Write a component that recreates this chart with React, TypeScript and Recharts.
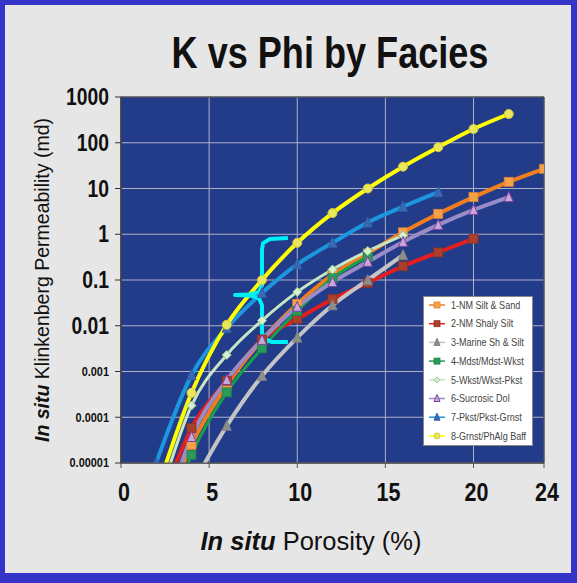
import React from "react";
import { ComposedChart, Line, XAxis, YAxis, CartesianGrid, ReferenceArea } from "recharts";

const facies = [
  "1-NM Silt & Sand",
  "2-NM Shaly Silt",
  "3-Marine Sh & Silt",
  "4-Mdst/Mdst-Wkst",
  "5-Wkst/Wkst-Pkst",
  "6-Sucrosic Dol",
  "7-Pkst/Pkst-Grnst",
  "8-Grnst/PhAlg Baff",
];

// porosity (%) and permeability (md), one pair per facies
const phi1 = [2, 4, 6, 8, 10, 12, 14, 16, 18, 20, 22, 24];
const k1 = [2.5e-7, 0.000025, 0.0005, 0.0049, 0.03, 0.13, 0.38, 1.1, 2.8, 6.5, 14, 27];
const phi2 = [2, 4, 6, 8, 10, 12, 14, 16, 18, 20];
const k2 = [7e-7, 0.000058, 0.00063, 0.005, 0.014, 0.038, 0.087, 0.2, 0.4, 0.8];
const phi3 = [4, 6, 8, 10, 12, 14, 16];
const k3 = [3e-6, 0.000065, 0.0008, 0.0055, 0.028, 0.1, 0.35];
const phi4 = [2, 4, 6, 8, 10, 12, 14];
const k4 = [1e-7, 0.000015, 0.00035, 0.0032, 0.021, 0.11, 0.32];
const phi5 = [2, 4, 6, 8, 10, 12, 14, 16];
const k5 = [1e-6, 0.00018, 0.0023, 0.013, 0.055, 0.17, 0.43, 0.95];
const phi6 = [2, 4, 6, 8, 10, 12, 14, 16, 18, 20, 22];
const k6 = [2e-7, 0.000037, 0.00065, 0.0049, 0.026, 0.09, 0.25, 0.68, 1.6, 3.4, 6.5];
const phi7 = [2, 4, 6, 8, 10, 12, 14, 16, 18];
const k7 = [0.0000102, 0.00083, 0.009, 0.052, 0.22, 0.65, 1.8, 4, 8.3];
const phi8 = [2, 4, 6, 8, 10, 12, 14, 16, 18, 20, 22];
const k8 = [2.2e-6, 0.00034, 0.0105, 0.1, 0.65, 2.9, 10, 30, 80, 200, 425];

// the cyan brace drawn over the chart
const braceX = [9.47, 8.45, 8.06, 8.0, 8.0, 7.83, 7.3, 6.47, 7.3, 7.83, 8.0, 8.0, 8.17, 8.57, 9.47];
const braceK = [0.83, 0.79, 0.64, 0.46, 0.078, 0.055, 0.048, 0.047, 0.046, 0.04, 0.028, 0.0069, 0.0051, 0.0044, 0.0044];

const xTicks = [0, 5, 10, 15, 20, 24];
const yTicks = [0.00001, 0.0001, 0.001, 0.01, 0.1, 1, 10, 100, 1000];

const pts = (xs: number[], ks: number[]) => xs.map((x, i) => ({ x, k: ks[i] }));

const seriesData = [pts(phi1, k1), pts(phi2, k2), pts(phi3, k3), pts(phi4, k4), pts(phi5, k5), pts(phi6, k6), pts(phi7, k7), pts(phi8, k8)];

type Shape = "square" | "triangle" | "diamond" | "circle";
const styles: { line: string; fill: string; edge: string; shape: Shape; width: number }[] = [
  { line: "#F07E1E", fill: "#F4A24A", edge: "#E08030", shape: "square", width: 4 },
  { line: "#E31E1E", fill: "#A8402C", edge: "#903020", shape: "square", width: 4 },
  { line: "#C4C4C4", fill: "#8E8E8E", edge: "#808080", shape: "triangle", width: 4 },
  { line: "#16A04A", fill: "#2A9A58", edge: "#208048", shape: "square", width: 3 },
  { line: "#C8E6C4", fill: "#D8F0D0", edge: "#90C890", shape: "diamond", width: 3 },
  { line: "#9A8CC6", fill: "#C8A8D8", edge: "#8040A0", shape: "triangle", width: 4 },
  { line: "#1C96DE", fill: "#3A68B4", edge: "#3060A8", shape: "triangle", width: 4 },
  { line: "#FFFF00", fill: "#E8E85A", edge: "#D8C840", shape: "circle", width: 4 },
];

const font = "'Liberation Sans', Arial, sans-serif";

function Marker({ cx, cy, shape, fill, edge, s = 4.5 }: { cx: number; cy: number; shape: Shape; fill: string; edge: string; s?: number }) {
  if (cx == null || cy == null || isNaN(cx) || isNaN(cy)) return null;
  if (shape === "square") return <rect x={cx - s} y={cy - s} width={2 * s} height={2 * s} fill={fill} stroke={edge} strokeWidth={0.8} />;
  if (shape === "triangle")
    return <polygon points={`${cx},${cy - s - 1} ${cx - s},${cy + s} ${cx + s},${cy + s}`} fill={fill} stroke={edge} strokeWidth={1} />;
  if (shape === "diamond")
    return <polygon points={`${cx},${cy - s} ${cx + s},${cy} ${cx},${cy + s} ${cx - s},${cy}`} fill={fill} stroke={edge} strokeWidth={1} />;
  return <circle cx={cx} cy={cy} r={s} fill={fill} stroke={edge} strokeWidth={1} />;
}

const YTick = (props: any) => {
  const { x, y, payload } = props;
  const v = payload.value as number;
  const big = v >= 0.01;
  return (
    <g transform={`translate(${x - 4},${y}) scale(0.84,1)`}>
      <text x={0} y={0} textAnchor="end" dominantBaseline="central" fontFamily={font} fontWeight="bold" fontSize={big ? 23 : 13} fill="#111">
        {String(v)}
      </text>
    </g>
  );
};

const XTick = (props: any) => {
  const { x, y, payload } = props;
  return (
    <g transform={`translate(${x + 3},${y + 22}) scale(0.86,1)`}>
      <text x={0} y={0} textAnchor="middle" dominantBaseline="central" fontFamily={font} fontWeight="bold" fontSize={25} fill="#111">
        {payload.value}
      </text>
    </g>
  );
};

function LegendBox() {
  return (
    <div style={{ position: "absolute", left: 423, top: 296, width: 110, height: 150, background: "#fff", border: "1px solid #888", boxSizing: "border-box" }}>
      <svg width={108} height={148} style={{ display: "block" }}>
        {facies.map((name, i) => {
          const st = styles[i];
          const y = 8 + i * 18.7;
          return (
            <g key={name}>
              <line x1={5} x2={21} y1={y} y2={y} stroke={st.line} strokeWidth={1.5} />
              <Marker cx={13} cy={y} shape={st.shape} fill={st.fill} edge={st.edge} s={3} />
              <g transform={`translate(27,${y}) scale(0.86,1)`}>
                <text x={0} y={0} dominantBaseline="central" fontFamily={font} fontSize={10.5} fill="#444">
                  {name}
                </text>
              </g>
            </g>
          );
        })}
      </svg>
    </div>
  );
}

export default function App() {
  return (
    <div style={{ position: "absolute", left: 0, top: 0, width: 577, height: 583, background: "#3434C8", fontFamily: font }}>
      <div style={{ position: "absolute", left: 5, top: 5, width: 566, height: 568, background: "#E6E6E6" }} />
      <div
        style={{
          position: "absolute",
          left: 0,
          width: 660,
          top: 28,
          textAlign: "center",
          fontSize: 44,
          fontWeight: "bold",
          color: "#111",
          transform: "scaleX(0.82)",
          transformOrigin: "330px 0",
        }}
      >
        K vs Phi by Facies
      </div>
      <div
        style={{
          position: "absolute",
          left: 42,
          top: 280,
          transform: "translate(-50%,-50%) rotate(-90deg)",
          whiteSpace: "nowrap",
          fontSize: 19.5,
          color: "#111",
        }}
      >
        <i style={{ fontWeight: "bold" }}>In situ</i> Klinkenberg Permeability (md)
      </div>
      <div
        style={{
          position: "absolute",
          left: 311,
          top: 541,
          transform: "translate(-50%,-50%)",
          whiteSpace: "nowrap",
          fontSize: 25.5,
          color: "#111",
        }}
      >
        <i style={{ fontWeight: "bold" }}>In situ</i> Porosity (%)
      </div>
      <div style={{ position: "absolute", left: 0, top: 0 }}>
        <ComposedChart width={577} height={583} margin={{ top: 97, right: 33, bottom: 80, left: 0 }}>
          <CartesianGrid fill="#223C8A" stroke="#B0B0C4" strokeWidth={1} />
          <XAxis
            type="number"
            dataKey="x"
            domain={[0, 24]}
            ticks={xTicks}
            allowDataOverflow
            height={40}
            stroke="#555"
            tickSize={5}
            tick={<XTick />}
          />
          <YAxis
            type="number"
            dataKey="k"
            scale="log"
            domain={[0.00001, 1000]}
            ticks={yTicks}
            allowDataOverflow
            width={121}
            stroke="#333"
            tickSize={6}
            tick={<YTick />}
          />
          <ReferenceArea x1={0} x2={24} y1={0.00001} y2={1000} fill="none" stroke="#222" strokeWidth={1} />
          {seriesData.map((d, i) => {
            const st = styles[i];
            return (
              <Line
                key={facies[i]}
                name={facies[i]}
                data={d}
                dataKey="k"
                type="monotone"
                stroke={st.line}
                strokeWidth={st.width}
                isAnimationActive={false}
                dot={(p: any) => <Marker key={`${i}-${p.index}`} cx={p.cx} cy={p.cy} shape={st.shape} fill={st.fill} edge={st.edge} />}
                activeDot={false}
                legendType="none"
              />
            );
          })}
          <Line
            data={pts(braceX, braceK)}
            dataKey="k"
            type="linear"
            stroke="#00F0F8"
            strokeWidth={4}
            strokeLinejoin="round"
            dot={false}
            activeDot={false}
            isAnimationActive={false}
            legendType="none"
          />
        </ComposedChart>
      </div>
      <LegendBox />
    </div>
  );
}
